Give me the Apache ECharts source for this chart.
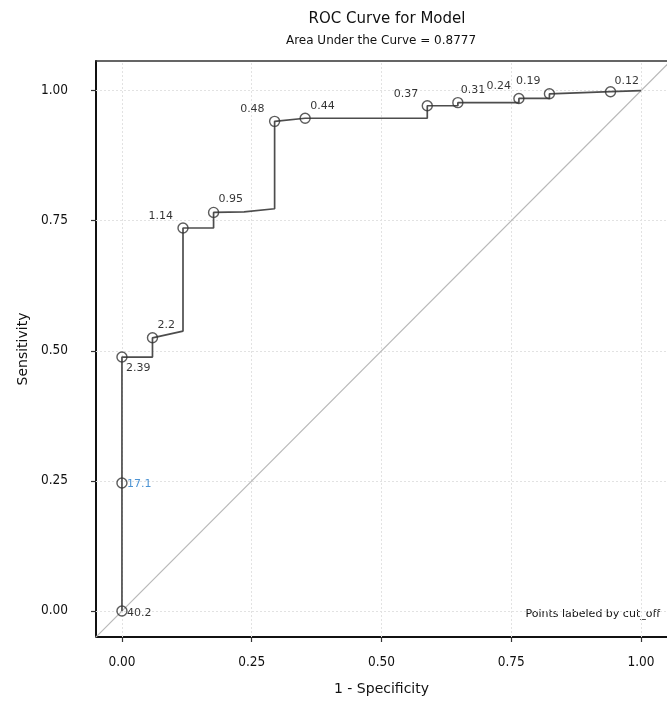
<!DOCTYPE html>
<html>
<head>
<meta charset="utf-8">
<script src="https://cdn.jsdelivr.net/npm/echarts@6/dist/echarts.min.js"></script>
<style>html,body{margin:0;padding:0;background:#fff}#chart{width:667px;height:706px}</style>
</head>
<body>
<div id="chart"></div>
<script>
// ROC curve points (1 - specificity, sensitivity) and cut-off labels
const fpr = [0, 0, 0, 0.0588, 0.0588, 0.1176, 0.1176, 0.1765, 0.1765, 0.2353, 0.2941, 0.2941, 0.3529, 0.5882, 0.5882, 0.6471, 0.6471, 0.7647, 0.7647, 0.8235, 0.8235, 0.9412, 1];
const tpr = [0, 0.246, 0.488, 0.488, 0.525, 0.538, 0.736, 0.736, 0.766, 0.767, 0.773, 0.941, 0.947, 0.947, 0.971, 0.971, 0.977, 0.977, 0.985, 0.985, 0.994, 0.998, 1];
const cutoff = ['40.2', '17.1', '2.39', '', '2.2', '', '1.14', '', '0.95', '', '', '0.48', '0.44', '', '0.37', '', '0.31', '', '0.24', '', '0.19', '0.12', ''];
const tickValues = [0, 0.25, 0.5, 0.75, 1];
const tickLabels = ['0.00', '0.25', '0.50', '0.75', '1.00'];
const titleText = 'ROC Curve for Model';
const subtitleText = 'Area Under the Curve = 0.8777';
const xName = '1 - Specificity';
const yName = 'Sensitivity';
const noteText = 'Points labeled by cut_off';

// label placement styles (offset from point, alignment)
const labelPlacement = {
  '40.2': [5, 2, 'left'], '17.1': [5, 1, 'left'], '2.39': [4, 11, 'left'], '2.2': [5, -13, 'left'],
  '1.14': [-10, -12, 'right'], '0.95': [5, -13, 'left'], '0.48': [-10, -12, 'right'], '0.44': [5, -12, 'left'],
  '0.37': [-9, -12, 'right'], '0.31': [3, -12, 'left'], '0.24': [-8, -12, 'right'], '0.19': [-9, -13, 'right'],
  '0.12': [4, -11, 'left']
};
const labelColor = { '17.1': '#1f78c8' };

const FONT = '"DejaVu Sans", sans-serif';
const FONT_C = '"DejaVu Sans Condensed", "Liberation Sans Narrow", "DejaVu Sans", sans-serif';
const X_MIN = -0.05, X_MAX = 1.05, Y_MIN = -0.05, Y_MAX = 1.057;

const pathData = fpr.map((x, i) => [x, tpr[i]]);
const pointData = [];
fpr.forEach((x, i) => {
  if (!cutoff[i]) return;
  const p = labelPlacement[cutoff[i]];
  pointData.push({
    value: [x, tpr[i]],
    name: cutoff[i],
    label: {
      show: true, formatter: cutoff[i], position: 'inside',
      offset: [p[0], p[1]], align: p[2], verticalAlign: 'middle',
      color: labelColor[cutoff[i]] || '#000'
    }
  });
});

const gridMarks = [];
tickValues.forEach(v => { gridMarks.push({ xAxis: v }); gridMarks.push({ yAxis: v }); });

const chart = echarts.init(document.getElementById('chart'), null, { renderer: 'canvas' });
chart.setOption({
  animation: false,
  backgroundColor: '#ffffff',
  title: [
    { text: titleText, left: 382, top: 7, textAlign: 'center',
      textStyle: { fontFamily: FONT, fontSize: 15, fontWeight: 'normal', color: '#111' } },
    { text: subtitleText, left: 376, top: 30, textAlign: 'center',
      textStyle: { fontFamily: FONT, fontSize: 12, fontWeight: 'normal', color: '#111' } }
  ],
  graphic: [{
    type: 'text', right: 7, top: 609,
    style: { text: noteText, font: '11px ' + FONT, fill: '#111' }
  }],
  grid: { left: 96, top: 61, width: 573, height: 576, containLabel: false },
  xAxis: [{
    type: 'value', min: X_MIN, max: X_MAX, position: 'bottom',
    name: xName, nameLocation: 'middle', nameGap: 45,
    nameTextStyle: { fontFamily: FONT, fontSize: 14, color: '#111' },
    axisLine: { show: true, onZero: false, lineStyle: { color: '#111', width: 2 } },
    axisTick: { show: true, customValues: tickValues, length: 5, lineStyle: { color: '#333', width: 1.2 } },
    axisLabel: { show: true, customValues: tickValues, margin: 18,
      formatter: v => tickLabels[tickValues.indexOf(v)] ?? v.toFixed(2),
      fontFamily: FONT_C, fontSize: 13.5, color: '#111' },
    splitLine: { show: false }
  }, {
    type: 'value', min: X_MIN, max: X_MAX, position: 'top',
    axisLine: { show: true, onZero: false, lineStyle: { color: '#333', width: 1.5 } },
    axisTick: { show: false }, axisLabel: { show: false }, splitLine: { show: false }
  }],
  yAxis: [{
    type: 'value', min: Y_MIN, max: Y_MAX, position: 'left',
    name: yName, nameLocation: 'middle', nameGap: 65,
    nameTextStyle: { fontFamily: FONT, fontSize: 14, color: '#111' },
    axisLine: { show: true, onZero: false, lineStyle: { color: '#111', width: 2 } },
    axisTick: { show: true, customValues: tickValues, length: 5, lineStyle: { color: '#333', width: 1.2 } },
    axisLabel: { show: true, customValues: tickValues, margin: 28,
      formatter: v => tickLabels[tickValues.indexOf(v)] ?? v.toFixed(2),
      fontFamily: FONT_C, fontSize: 13.5, color: '#111' },
    splitLine: { show: false }
  }],
  series: [
    {
      type: 'line', name: 'reference', xAxisIndex: 0, yAxisIndex: 0,
      data: [[X_MIN - 0.01, X_MIN - 0.01], [X_MAX + 0.02, X_MAX + 0.02]],
      showSymbol: false, symbol: 'none', silent: true, clip: true, z: 2,
      lineStyle: { color: '#b8b8b8', width: 1.2 },
      markLine: {
        silent: true, symbol: 'none', label: { show: false }, animation: false,
        lineStyle: { color: '#e2e2e2', width: 1, type: [2, 2] },
        data: gridMarks, z: 1
      }
    },
    {
      type: 'line', name: 'roc', data: pathData, showSymbol: false, symbol: 'none',
      lineStyle: { color: '#4d4d4d', width: 1.7 }, z: 3, silent: true
    },
    {
      type: 'scatter', name: 'cut', data: pointData, symbol: 'circle', symbolSize: 10,
      itemStyle: { color: 'rgba(255,255,255,0)', borderColor: '#333', borderWidth: 1.4 },
      label: { fontFamily: FONT, fontSize: 11 }, z: 4
    }
  ]
});
</script>
</body>
</html>
